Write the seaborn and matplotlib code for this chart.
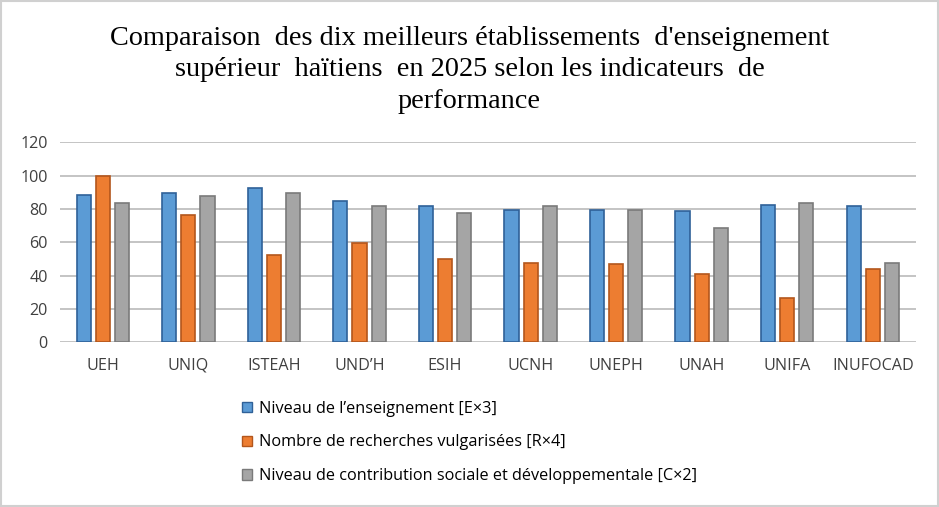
import numpy as np
import pandas as pd
import matplotlib
matplotlib.use('Agg')
import matplotlib.pyplot as plt
import seaborn as sns
from matplotlib.patches import Rectangle


# Données
etablissements = ['UEH', 'UNIQ', 'ISTEAH', 'UND\u2019H', 'ESIH',
                  'UCNH', 'UNEPH', 'UNAH', 'UNIFA', 'INUFOCAD']
enseignement = [88.4, 89.8, 92.8, 85.0, 82.0, 79.6, 79.6, 79.0, 82.6, 82.0]
recherches = [100.0, 76.6, 52.5, 59.7, 50.1, 47.7, 47.1, 41.1, 26.7, 44.1]
contribution = [83.8, 88.0, 89.8, 82.0, 77.8, 82.0, 79.6, 68.7, 83.8, 47.7]

series_labels = [
    'Niveau de l\u2019enseignement [E\u00d73]',
    'Nombre de recherches vulgaris\u00e9es [R\u00d74]',
    'Niveau de contribution sociale et d\u00e9veloppementale [C\u00d72]',
]
y_ticks = [0, 20, 40, 60, 80, 100, 120]

titre = ("Comparaison  des dix meilleurs \u00e9tablissements  d'enseignement\n"
         "sup\u00e9rieur  ha\u00eftiens  en 2025 selon les indicateurs  de\n"
         "performance")

# Couleurs façon Office
colors = ['#5B9BD5', '#ED7D31', '#A5A5A5']
edges = ['#2F6198', '#B3561C', '#7A7A7A']


def build_frame():
    rows = []
    for label, values in zip(series_labels, [enseignement, recherches, contribution]):
        for etab, v in zip(etablissements, values):
            rows.append({'etab': etab, 'serie': label, 'valeur': v})
    return pd.DataFrame(rows)


df = build_frame()

sns.set_theme(style='white')
plt.rcParams['font.family'] = ['Open Sans', 'DejaVu Sans']

fig = plt.figure(figsize=(9.39, 5.07), dpi=100)
ax = fig.add_axes([0.064, 0.325, 0.911, 0.394])

sns.barplot(
    data=df, x='etab', y='valeur', hue='serie',
    order=etablissements, hue_order=series_labels,
    palette=colors, saturation=1, width=0.67, gap=0.26,
    errorbar=None, legend=False, ax=ax, zorder=3
)

# Bordure plus foncée autour de chaque barre
for container, ec in zip(ax.containers, edges):
    for bar in container:
        bar.set_edgecolor(ec)
        bar.set_linewidth(1.2)

ax.set_ylim(0, 120)
ax.set_xlim(-0.5, 9.5)
ax.set_yticks(y_ticks)
ax.set_yticklabels([str(t) for t in y_ticks])
ax.yaxis.grid(True, color='#BFBFBF', linewidth=1.3, zorder=0)
ax.set_axisbelow(True)
for s in ax.spines.values():
    s.set_visible(False)
ax.tick_params(axis='both', length=0, labelsize=11.6, colors='#404040')
ax.tick_params(axis='x', pad=11)
ax.tick_params(axis='y', pad=9)
ax.set_xlabel('')
ax.set_ylabel('')

fig.text(0.5, 0.948, titre, ha='center', va='top', fontsize=20.3,
         family='Liberation Serif', linespacing=1.32, color='black')

handles = [Rectangle((0, 0), 1, 1, facecolor=c, edgecolor=e, linewidth=1)
           for c, e in zip(colors, edges)]
fig.legend(handles, series_labels, loc='upper left',
           bbox_to_anchor=(0.249, 0.226), frameon=False,
           fontsize=11.7, handlelength=0.6, handleheight=0.6,
           handletextpad=0.45, labelspacing=1.1, borderpad=0,
           labelcolor='black')

# Cadre gris autour de la figure
fig.patches.append(Rectangle((0.001, 0.001), 0.998, 0.997, transform=fig.transFigure,
                             fill=False, edgecolor='#D0D0D0', linewidth=1.5))

fig.savefig('out.png', dpi=100, facecolor='white')
